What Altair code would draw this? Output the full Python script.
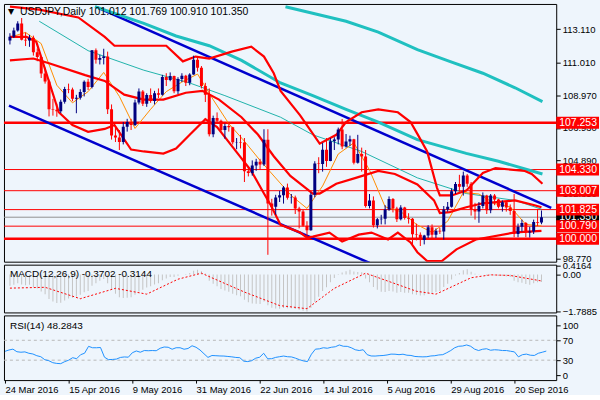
import altair as alt
import pandas as pd

# ---------------- data (bar index 0 = 24 Mar 2016 ... 136 = 30 Sep 2016) ----------------
closes = [112.63,113.02,113.46,112.45,112.40,112.57,111.66,111.37,110.34,109.84,
          108.10,108.07,107.97,108.56,109.37,109.33,108.76,108.82,109.18,109.81,
          109.49,111.79,111.19,111.31,111.40,108.10,106.46,106.33,106.05,107.00,
          107.30,107.11,108.52,109.21,108.45,108.99,108.61,109.10,109.00,110.11,
          109.92,110.17,109.22,109.99,110.19,109.76,110.27,111.19,110.70,109.55,
          109.00,106.53,107.55,107.38,106.80,107.05,106.97,106.04,106.05,106.02,
          104.22,104.12,104.58,104.81,104.65,106.19,102.21,102.00,102.58,102.73,
          103.20,102.56,102.58,101.90,101.70,100.82,100.53,102.75,104.70,104.68,
          105.57,104.87,106.10,106.20,106.84,105.77,106.08,106.22,104.75,105.30,
          105.15,102.05,102.40,100.85,101.23,101.26,101.83,102.49,101.90,101.22,
          101.95,101.30,101.25,100.29,100.26,99.93,100.20,100.72,100.25,100.50,
          100.45,101.83,102.00,102.98,103.43,103.25,103.95,103.44,101.85,101.70,
          102.05,102.70,101.78,102.70,102.45,102.00,102.28,101.95,101.74,100.30,
          100.75,100.99,100.40,100.45,101.05,101.00,101.35]
opens = [112.40,112.63,113.02,113.46,112.45,112.40,112.57,111.66,111.37,110.34,
         109.84,108.10,108.07,107.97,108.56,109.37,109.33,108.76,108.82,109.18,
         109.81,109.49,111.79,111.19,111.31,111.40,108.10,106.46,106.33,106.05,
         107.00,107.30,107.11,108.52,109.21,108.45,108.99,108.61,109.10,109.00,
         110.11,109.92,110.17,109.22,109.99,110.19,109.76,110.27,111.19,110.70,
         109.55,109.00,106.53,107.55,107.38,106.80,107.05,106.97,106.04,106.05,
         106.02,104.22,104.12,104.58,104.81,104.65,106.19,102.21,102.00,102.58,
         102.73,103.20,102.56,102.58,101.90,101.70,100.82,100.53,102.75,104.70,
         104.68,105.57,104.87,106.10,106.20,106.84,105.77,106.08,106.22,104.75,
         105.30,105.15,102.05,102.40,100.85,101.23,101.26,101.83,102.49,101.90,
         101.22,101.95,101.30,101.25,100.29,100.26,99.93,100.20,100.72,100.25,
         100.50,100.45,101.83,102.00,102.98,103.43,103.25,103.95,103.44,101.85,
         101.70,102.05,102.70,101.78,102.70,102.45,102.00,102.28,101.95,101.74,
         100.30,100.75,100.99,100.40,100.45,101.05,101.012]
highs = [112.85,113.20,113.60,113.80,112.90,112.75,112.70,111.90,111.40,110.70,
         109.95,108.75,108.45,108.70,109.50,109.70,109.45,109.00,109.35,109.90,
         110.00,111.80,111.90,111.50,111.88,111.70,108.40,107.00,106.80,107.30,
         107.50,107.50,108.70,109.40,109.30,109.10,109.40,109.25,109.40,110.25,
         110.35,110.40,110.20,110.10,110.35,110.25,110.35,111.45,111.40,110.80,
         109.75,109.40,107.70,107.90,107.45,107.20,107.30,107.00,106.30,106.50,
         106.30,104.50,104.90,105.00,105.00,106.85,106.85,102.50,102.75,103.00,
         103.30,103.45,102.80,102.70,102.00,101.80,101.10,102.90,104.85,105.10,
         106.00,106.30,106.30,106.35,106.95,107.49,106.55,106.45,106.25,106.50,
         105.70,105.55,102.80,102.65,101.30,101.50,102.10,102.65,102.55,102.00,
         102.10,102.00,101.60,101.30,100.95,100.40,100.25,100.85,100.90,100.65,
         100.70,102.05,102.30,103.15,103.55,104.00,104.20,104.05,103.55,102.25,
         102.30,102.90,102.75,102.80,102.80,102.50,102.40,102.35,102.15,102.80,
         100.95,101.20,101.05,100.75,101.20,101.85,101.769]
lows = [112.15,112.55,112.95,112.40,112.05,112.00,111.45,111.10,110.05,109.70,
        107.65,107.70,107.63,107.85,108.45,109.10,108.60,107.85,108.70,108.90,
        109.30,109.40,110.95,110.90,110.90,107.80,106.20,106.05,105.55,105.90,
        106.70,106.80,107.05,108.40,108.30,108.25,108.50,108.40,108.80,108.95,
        109.55,109.85,109.10,109.05,109.80,109.55,109.60,110.25,110.45,109.40,
        108.55,106.40,106.35,107.20,106.70,106.25,106.70,105.90,105.60,105.65,
        103.55,103.90,103.95,104.25,104.30,104.55,99.00,101.45,101.50,102.30,
        102.20,102.45,102.20,101.55,100.65,100.75,99.95,100.50,102.60,104.10,
        104.20,104.50,104.85,105.55,105.90,105.60,105.70,105.80,104.65,104.70,
        104.20,101.95,101.90,100.70,100.65,100.90,100.90,101.75,101.65,101.05,
        101.15,101.20,100.95,99.55,99.90,99.55,99.65,100.05,99.95,100.05,
        100.30,99.95,101.70,101.95,102.80,102.95,102.70,103.25,101.45,101.20,
        101.00,101.90,101.55,101.60,102.10,101.90,101.70,101.70,101.50,100.10,
        100.10,100.45,100.10,100.08,100.30,100.80,100.910]

macd_main = [-0.55,-0.50,-0.42,-0.48,-0.52,-0.50,-0.60,-0.68,-0.82,-0.95,
             -1.18,-1.30,-1.38,-1.36,-1.25,-1.16,-1.12,-1.06,-0.98,-0.86,
             -0.80,-0.55,-0.42,-0.30,-0.22,-0.43,-0.72,-0.93,-1.10,-1.13,
             -1.12,-1.10,-0.98,-0.82,-0.74,-0.63,-0.57,-0.48,-0.42,-0.28,
             -0.20,-0.12,-0.12,-0.06,0.00,0.02,0.07,0.18,0.22,0.15,
             0.05,-0.30,-0.45,-0.57,-0.70,-0.77,-0.83,-0.93,-1.00,-1.05,
             -1.22,-1.34,-1.40,-1.41,-1.42,-1.30,-1.48,-1.60,-1.64,-1.65,
             -1.62,-1.63,-1.63,-1.66,-1.70,-1.75,-1.7885,-1.62,-1.33,-1.08,
             -0.80,-0.62,-0.38,-0.17,0.02,0.09,0.15,0.22,0.14,0.12,
             0.10,-0.20,-0.38,-0.60,-0.74,-0.84,-0.85,-0.80,-0.82,-0.88,
             -0.85,-0.88,-0.88,-0.95,-0.98,-1.02,-1.00,-0.93,-0.90,-0.85,
             -0.80,-0.60,-0.45,-0.25,-0.05,0.07,0.20,0.25,0.13,0.03,
             -0.02,0.00,-0.06,-0.04,-0.05,-0.08,-0.08,-0.10,-0.13,-0.30,
             -0.38,-0.40,-0.46,-0.50,-0.42,-0.38,-0.3702]
signal_i = [0, 9, 18, 27, 35, 43, 49, 60, 69, 76, 83, 91, 104, 109, 118, 123, 128, 136]
signal_v = [-0.66,-0.62,-1.17,-0.67,-0.95,-0.23,0.06,-0.85,-1.50,-1.65,-0.67,0.06,
            -0.81,-0.95,-0.16,-0.02,-0.05,-0.3144]

rsi_vals = [47.8,50.5,52.2,47.0,46.0,46.7,43.9,42.5,39.0,37.0,
            31.0,29.0,25.0,23.5,23.0,27.0,30.0,35.0,33.0,41.0,
            44.0,57.8,55.0,55.0,55.5,36.0,31.1,31.5,32.2,35.5,
            36.5,36.0,45.0,48.5,46.0,49.4,49.0,49.4,49.0,54.0,
            56.5,56.0,52.0,55.0,55.0,52.0,53.5,59.0,56.0,50.5,
            43.0,35.6,39.4,39.0,38.5,38.3,37.5,36.7,35.5,35.0,
            28.0,27.2,29.0,34.0,36.0,43.9,32.8,33.0,35.6,37.0,
            38.3,37.0,36.5,34.0,31.0,28.5,27.2,42.0,52.2,52.8,
            55.0,54.0,56.0,57.0,60.6,58.0,57.8,55.0,51.0,49.4,
            51.0,41.1,38.5,38.3,39.0,39.4,40.5,42.2,42.0,41.1,
            42.0,40.0,39.5,37.5,37.0,36.7,37.0,38.5,39.0,40.5,
            41.1,45.0,49.4,55.0,58.0,58.5,60.6,58.0,52.2,49.4,
            52.0,53.0,50.0,51.0,50.5,49.4,49.4,48.0,46.7,36.7,
            41.0,42.2,40.0,39.5,43.9,46.0,48.2843]

# indicator lines (bar index, price)
upper_i = [0,7.5,17.5,24.25,26.75,34.25,40,44.25,47.5,51,56.75,61.75,65,67.5,69.25,74.25,79.25,
           83.5,86,90,94.25,99.25,102.5,104.25,106.75,109.25,110,113,116.75,121,124.25,131.75,133.5,136.25]
upper_v = [114.51,114.33,113.84,112.62,112.07,112.07,112.07,111.09,111.39,111.27,111.70,112.01,111.39,
           110.35,109.25,107.72,105.95,106.50,107.30,107.91,108.09,107.91,107.30,106.56,105.46,103.20,
           102.71,102.71,103.01,104.12,104.42,104.24,104.05,103.44]
mid_i = [0,6,10,19.25,24.25,29.25,34.25,39.25,45,49.25,53.5,59.25,63.5,67.5,71.75,77.5,79.25,83.5,
         88.5,94.25,98.5,104.25,108.5,110,112.5,116.75,121,129.25,134.25,136]
mid_v = [111.15,111.27,110.97,110.23,109.87,109.01,108.70,108.70,109.13,109.25,108.70,107.60,106.50,
         105.16,103.93,102.83,102.83,103.44,103.81,104.24,104.05,103.40,102.40,101.61,101.67,101.97,
         102.22,102.40,102.10,101.97]
lower_i = [0,4.25,6.75,12.5,16,20,24.25,26.75,31,34.25,39.25,42.5,46,50,53,59.25,61.75,65,66.75,
           69.25,74.25,76,77.5,81.75,85,89.25,92.5,96.75,99.25,102.5,104.25,106.75,110.5,114.25,
           119.25,129.25,136]
lower_v = [112.62,112.62,112.31,107.91,107.11,106.69,106.87,107.11,105.58,105.46,105.33,105.64,106.50,
           107.48,106.99,105.03,104.24,102.83,102.10,100.87,100.39,100.08,100.14,100.39,99.83,100.26,
           100.39,99.96,100.39,99.77,99.16,98.61,98.61,99.34,99.96,100.40,100.50]
cyan_slow_i = [70.5,86,94.25,104.25,112.5,121,129.25,136.25]
cyan_slow_v = [114.51,113.60,112.92,111.82,111.09,110.35,109.44,108.58]
cyan_mid_i = [21.75,34.25,42.5,51,59.25,69.25,77.5,86,94.25,104.25,116.75,125,136.25]
cyan_mid_v = [114.51,113.47,112.68,112.07,111.15,109.74,108.95,108.09,107.30,106.20,105.34,104.85,104.05]
cyan_thin_i = [7.5,20,34.25,46,55,69.25,77.5,90,104.25,116.75,129.25,136]
cyan_thin_v = [113.60,111.76,110.54,109.74,108.95,107.60,106.50,105.46,103.81,102.83,102.40,101.85]
orange_i = [0,4,8,12,16,20,24,28,32,36,40,44,48,52,56,60,64,68,72,76,80,84,88,92,96,100,104,108,
            112,116,120,124,128,132,136]
orange_v = [112.6,112.9,112.2,109.6,108.5,109.2,110.4,108.9,106.9,108.1,109.2,109.8,110.3,108.7,107.2,
            106.1,104.9,103.8,102.7,101.9,103.3,105.3,106.0,104.3,102.0,101.7,100.9,100.4,101.1,102.9,
            102.8,102.2,102.0,100.9,100.8]
trend_upper_i = [22.0, 138.5]
trend_upper_v = [114.50, 101.93]
trend_lower_i = [-0.25, 92.0]
trend_lower_v = [108.33, 98.49]

levels_thin = [104.330, 103.007, 101.825, 100.790]
levels_thick = [107.253, 100.000]
current_price = [101.350]
price_ticks = [113.110, 111.010, 108.970, 106.930, 104.890, 102.850, 100.810, 98.770]
rsi_ticks = [0.0, 30.0, 70.0, 100.0]
date_ticks = [0, 16, 32, 48, 64, 80, 96, 112, 128]
date_labels = ["24 Mar 2016", "15 Apr 2016", "9 May 2016", "31 May 2016", "22 Jun 2016",
               "14 Jul 2016", "5 Aug 2016", "29 Aug 2016", "20 Sep 2016"]

# ---------------- styling ----------------
BG = "#eef5fc"
FONT = "Liberation Sans"
W = 555
XS = alt.Scale(domain=[-0.25, 138.5], nice=False, zero=False)
YS = alt.Scale(domain=[98.57, 114.68], nice=False, zero=False)
MS = alt.Scale(domain=[-1.83, 0.47], nice=False, zero=False)
RS = alt.Scale(domain=[-10, 120], nice=False, zero=False)

AX_COMMON = dict(orient="right", grid=False, domain=False, tickSize=4, tickColor="black",
                 labelFontSize=9.5, labelFont=FONT, labelColor="black", labelPadding=2, title=None,
                 labelOverlap=False, labelFlush=False, labelBound=False, labelBaseline="middle")
YAX_MAIN = alt.Axis(values=price_ticks, format=".3f", **AX_COMMON)
YAX_MACD = alt.Axis(values=[0.4164, 0.0, -1.7885],
                    labelExpr="datum.value == 0 ? '0.00' : format(datum.value, '.4f')", **AX_COMMON)
YAX_RSI = alt.Axis(values=rsi_ticks, format="d", **AX_COMMON)
label_list = "[" + ",".join("'" + s + "'" for s in date_labels) + "]"
XAX_RSI = alt.Axis(orient="bottom", values=date_ticks,
                   labelExpr=label_list + "[round(datum.value/16)]",
                   labelAlign="left", labelFontSize=9.5, labelFont=FONT, labelColor="black",
                   tickSize=3, tickColor="black", labelPadding=1, grid=False, domain=False,
                   title=None, labelOverlap=False, labelFlush=False)

bars = pd.DataFrame({"i": list(range(len(closes))), "open": opens, "high": highs,
                     "low": lows, "close": closes, "macd": macd_main, "rsi": rsi_vals})
bars["dir"] = ["up" if c >= o else "down" for o, c in zip(opens, closes)]
cscale = alt.Scale(domain=["up", "down"], range=["#000080", "#ff0000"])

xenc = alt.X("i:Q", scale=XS, axis=None)


def series(ii, vv):
    return pd.DataFrame({"i": ii, "v": vv})


def line(ii, vv, color, width, yscale=YS, yaxis=YAX_MAIN, dash=None):
    kw = dict(color=color, strokeWidth=width, clip=True)
    if dash:
        kw["strokeDash"] = dash
    return alt.Chart(series(ii, vv)).mark_line(**kw).encode(
        x=alt.X("i:Q", scale=XS, axis=None),
        y=alt.Y("v:Q", scale=yscale, axis=yaxis))


def ymain(field):
    return alt.Y(field, scale=YS, axis=YAX_MAIN)


wicks = alt.Chart(bars).mark_rule(strokeWidth=1, clip=True).encode(
    x=xenc, y=ymain("low:Q"), y2="high:Q",
    color=alt.Color("dir:N", scale=cscale, legend=None))
bodies = alt.Chart(bars).mark_bar(width=3, clip=True).encode(
    x=xenc, y=ymain("open:Q"), y2="close:Q",
    color=alt.Color("dir:N", scale=cscale, legend=None))

lev_thin = alt.Chart(pd.DataFrame({"v": levels_thin})).mark_rule(color="#ff0000", strokeWidth=1).encode(
    y=ymain("v:Q"))
lev_thick = alt.Chart(pd.DataFrame({"v": levels_thick})).mark_rule(color="#ff0000", strokeWidth=2.5).encode(
    y=ymain("v:Q"))
cur_line = alt.Chart(pd.DataFrame({"v": current_price})).mark_rule(color="#909090", strokeWidth=1).encode(
    y=ymain("v:Q"))

# current-price tag first, so the red level tags lie over it as in the reference
cur_df = pd.DataFrame({"v": current_price, "txt": [f"{v:.3f}" for v in current_price]})
lvl_vals = levels_thick + levels_thin
lvl_df = pd.DataFrame({"v": lvl_vals, "txt": [f"{v:.3f}" for v in lvl_vals]})

tag_box_cur = alt.Chart(cur_df).mark_tick(
    orient="horizontal", size=43, thickness=12, opacity=1, color="#000000").encode(
    x=alt.value(576.5), y=ymain("v:Q"))
tag_text_cur = alt.Chart(cur_df).mark_text(
    color="white", fontSize=10.5, font=FONT, align="center", baseline="middle").encode(
    x=alt.value(577), y=ymain("v:Q"), text="txt:N")
tag_boxes_lvl = alt.Chart(lvl_df).mark_tick(
    orient="horizontal", size=43, thickness=12, opacity=1, color="#ff0000").encode(
    x=alt.value(576.5), y=ymain("v:Q"))
tag_text_lvl = alt.Chart(lvl_df).mark_text(
    color="white", fontSize=10.5, font=FONT, align="center", baseline="middle").encode(
    x=alt.value(577), y=ymain("v:Q"), text="txt:N")

header = alt.Chart(pd.DataFrame({"t": ["USDJPY,Daily  101.012 101.769 100.910 101.350"]})).mark_text(
    align="left", baseline="middle", fontSize=10.5, font=FONT, color="black").encode(
    x=alt.value(16), y=alt.value(8), text="t:N")
tri = alt.Chart(pd.DataFrame({"t": ["▼"]})).mark_text(
    align="left", baseline="middle", fontSize=8, font="DejaVu Sans", color="black").encode(
    x=alt.value(4), y=alt.value(8), text="t:N")

main = alt.layer(
    lev_thin, lev_thick, cur_line,
    line(trend_upper_i, trend_upper_v, "#0000cd", 2.5),
    line(trend_lower_i, trend_lower_v, "#0000cd", 2.5),
    line(cyan_slow_i, cyan_slow_v, "#20c0c0", 3),
    line(cyan_mid_i, cyan_mid_v, "#20c0c0", 3),
    line(cyan_thin_i, cyan_thin_v, "#20b2aa", 1),
    line(orange_i, orange_v, "#ff8c00", 1),
    line(upper_i, upper_v, "#ff0000", 2.2),
    line(mid_i, mid_v, "#ff0000", 2.2),
    line(lower_i, lower_v, "#ff0000", 2.2),
    wicks, bodies,
    tag_box_cur, tag_text_cur, tag_boxes_lvl, tag_text_lvl, tri, header,
).properties(width=W, height=259)

# ---------------- MACD ----------------
hist = alt.Chart(bars).mark_bar(width=1, color="#c4c4c4", clip=True).encode(
    x=xenc, y=alt.Y("macd:Q", scale=MS, axis=YAX_MACD), y2=alt.datum(0))
sig = line(signal_i, signal_v, "#ff0000", 1, yscale=MS, yaxis=YAX_MACD, dash=[2, 2])
macd_lbl = alt.Chart(pd.DataFrame({"t": ["MACD(12,26,9) -0.3702 -0.3144"]})).mark_text(
    align="left", baseline="middle", fontSize=10, font=FONT, color="black").encode(
    x=alt.value(6), y=alt.value(9), text="t:N")
macd_chart = alt.layer(hist, sig, macd_lbl).properties(width=W, height=48)

# ---------------- RSI ----------------
xrsi = alt.X("i:Q", scale=XS, axis=XAX_RSI)
rsi_line = alt.Chart(bars).mark_line(color="#1e90ff", strokeWidth=1, clip=True).encode(
    x=xrsi, y=alt.Y("rsi:Q", scale=RS, axis=YAX_RSI))
rsi_lv = alt.Chart(pd.DataFrame({"v": [70, 30]})).mark_rule(
    color="#b8b8b8", strokeDash=[3, 3], strokeWidth=1).encode(y=alt.Y("v:Q", scale=RS, axis=YAX_RSI))
rsi_lbl = alt.Chart(pd.DataFrame({"t": ["RSI(14) 48.2843"]})).mark_text(
    align="left", baseline="middle", fontSize=10, font=FONT, color="black").encode(
    x=alt.value(6), y=alt.value(11), text="t:N")
rsi_chart = alt.layer(rsi_lv, rsi_line, rsi_lbl).properties(width=W, height=65)

chart = alt.vconcat(main, macd_chart, rsi_chart, spacing=3, bounds="flush").properties(
    background=BG, padding={"left": 2, "top": 2, "right": 0, "bottom": 0}
).configure_view(stroke="black", strokeWidth=1, fill=BG)

chart.save("out.html", embed_options={"renderer": "svg", "actions": False})
